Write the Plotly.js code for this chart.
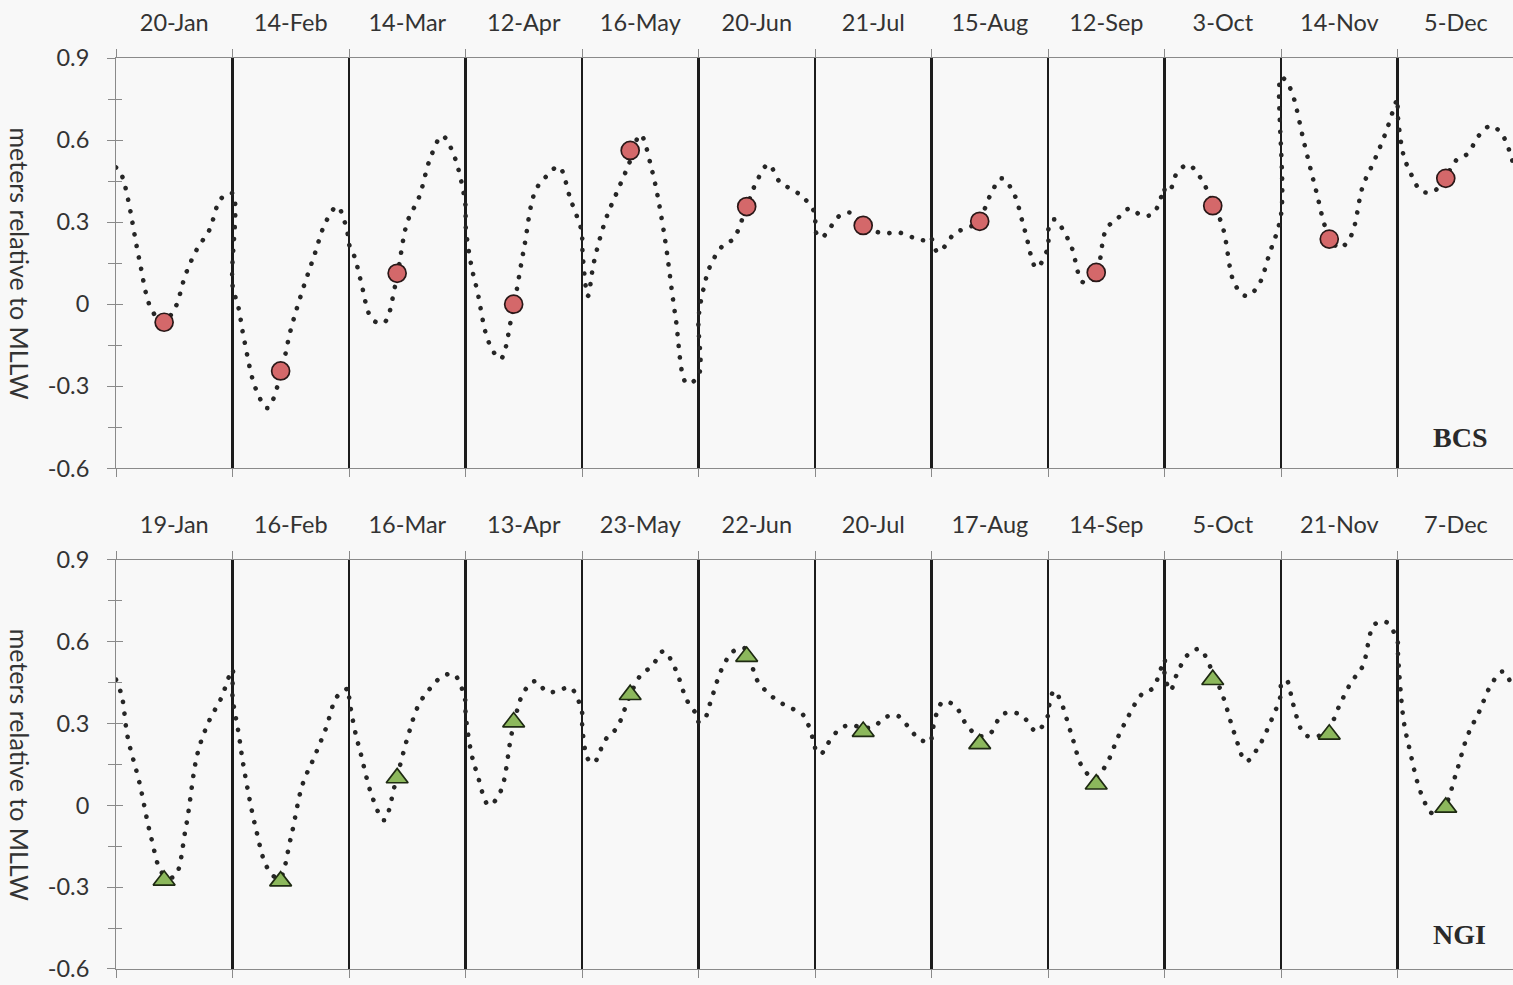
<!DOCTYPE html>
<html><head><meta charset="utf-8">
<script src="https://cdn.plot.ly/plotly-3.0.1.min.js"></script>
<style>
html,body{margin:0;padding:0;background:#f8f8f8;}
#chart{width:1513px;height:985px;}
.scatterlayer .js-line{stroke-linecap:round;}
</style></head>
<body><div id="chart"></div>
<script>
// Sampling-date tick labels (one per monthly window)
const bcsDates = ['20-Jan','14-Feb','14-Mar','12-Apr','16-May','20-Jun','21-Jul','15-Aug','12-Sep','3-Oct','14-Nov','5-Dec'];
const ngiDates = ['19-Jan','16-Feb','16-Mar','13-Apr','23-May','22-Jun','20-Jul','17-Aug','14-Sep','5-Oct','21-Nov','7-Dec'];

// Position of each reading inside its monthly window (0 = window start, 1 = window end)
const sampleFrac = [0, 0.05, 0.1, 0.2, 0.3, 0.4, 0.5, 0.6, 0.7, 0.8, 0.9, 1.0];
// Position of the sampling day inside each window
const sampleDayFrac = 0.413;

// Water level (m relative to MLLW), BCS, one row per monthly window
const bcsLevel = [
  [0.50, 0.47, 0.39, 0.163, -0.015, -0.065, -0.02, 0.112, 0.205, 0.27, 0.385, 0.405],
  [0.07, -0.01, -0.13, -0.31, -0.38, -0.28, -0.093, 0.05, 0.176, 0.30, 0.357, 0.233],
  [0.22, 0.17, 0.087, -0.056, -0.068, 0.075, 0.30, 0.39, 0.537, 0.615, 0.545, 0.36],
  [0.29, 0.14, 0.05, -0.14, -0.20, -0.035, 0.20, 0.415, 0.47, 0.503, 0.385, 0.26],
  [0.22, 0.03, 0.15, 0.306, 0.41, 0.51, 0.62, 0.49, 0.27, -0.04, -0.29, -0.26],
  [-0.05, 0.07, 0.14, 0.21, 0.24, 0.34, 0.45, 0.511, 0.445, 0.42, 0.39, 0.33],
  [0.27, 0.243, 0.26, 0.32, 0.335, 0.30, 0.27, 0.258, 0.264, 0.25, 0.236, 0.232],
  [0.24, 0.19, 0.205, 0.26, 0.278, 0.30, 0.395, 0.46, 0.41, 0.27, 0.133, 0.21],
  [0.27, 0.31, 0.29, 0.21, 0.08, 0.095, 0.275, 0.315, 0.35, 0.325, 0.33, 0.425],
  [0.41, 0.42, 0.475, 0.51, 0.467, 0.384, 0.28, 0.075, 0.03, 0.065, 0.185, 0.33],
  [0.83, 0.81, 0.765, 0.585, 0.415, 0.26, 0.205, 0.25, 0.43, 0.525, 0.63, 0.75],
  [0.70, 0.545, 0.49, 0.415, 0.41, 0.455, 0.525, 0.55, 0.618, 0.652, 0.618, 0.50]
];
// Water level, NGI
const ngiLevel = [
  [0.46, 0.40, 0.25, 0.085, -0.115, -0.25, -0.262, -0.08, 0.19, 0.31, 0.39, 0.498],
  [0.40, 0.27, 0.13, -0.085, -0.23, -0.27, -0.12, 0.075, 0.175, 0.28, 0.40, 0.427],
  [0.40, 0.275, 0.19, 0.03, -0.055, 0.085, 0.245, 0.37, 0.43, 0.472, 0.48, 0.38],
  [0.34, 0.19, 0.115, 0.0, 0.05, 0.27, 0.415, 0.455, 0.415, 0.42, 0.432, 0.34],
  [0.30, 0.17, 0.155, 0.24, 0.285, 0.39, 0.475, 0.51, 0.565, 0.50, 0.385, 0.32],
  [0.305, 0.315, 0.375, 0.50, 0.565, 0.575, 0.46, 0.41, 0.377, 0.355, 0.33, 0.21],
  [0.205, 0.188, 0.22, 0.275, 0.295, 0.285, 0.287, 0.322, 0.33, 0.288, 0.24, 0.235],
  [0.25, 0.345, 0.38, 0.365, 0.295, 0.255, 0.262, 0.33, 0.341, 0.318, 0.27, 0.33],
  [0.34, 0.42, 0.39, 0.26, 0.135, 0.10, 0.15, 0.25, 0.335, 0.405, 0.43, 0.535],
  [0.48, 0.42, 0.475, 0.552, 0.572, 0.50, 0.40, 0.262, 0.161, 0.21, 0.296, 0.41],
  [0.45, 0.455, 0.375, 0.26, 0.252, 0.275, 0.365, 0.45, 0.51, 0.662, 0.672, 0.60],
  [0.58, 0.315, 0.21, 0.045, -0.03, -0.005, 0.115, 0.255, 0.343, 0.44, 0.49, 0.42]
];
// Level on each sampling day
const bcsSample = [-0.066, -0.244, 0.113, 0.0, 0.562, 0.357, 0.288, 0.303, 0.116, 0.36, 0.238, 0.46];
const ngiSample = [-0.275, -0.278, 0.10, 0.305, 0.405, 0.545, 0.27, 0.225, 0.077, 0.46, 0.26, -0.008];

// Y-axis ticks
const yTickVals = [-0.6, -0.3, 0, 0.3, 0.6, 0.9];
const yTickText = ['-0.6', '-0.3', '0', '0.3', '0.6', '0.9'];
const siteNames = ['BCS', 'NGI'];

const nSeg = bcsDates.length;
const segIdx = Array.from({length: nSeg}, (_, i) => i);

function curve(level) {
  const x = [], y = [];
  level.forEach((seg, s) => seg.forEach((v, i) => { x.push(s + sampleFrac[i]); y.push(v); }));
  return {x, y};
}
const bc = curve(bcsLevel), nc = curve(ngiLevel);
const sampleX = segIdx.map(s => s + sampleDayFrac);

const lineStyle = {color: '#262626', width: 4.6, dash: '0.1px,11.6px', shape: 'spline', smoothing: 1};

const traces = [
  {x: bc.x, y: bc.y, xaxis: 'x', yaxis: 'y', mode: 'lines', line: lineStyle, hoverinfo: 'skip'},
  {x: sampleX, y: bcsSample, xaxis: 'x', yaxis: 'y', mode: 'markers',
   marker: {symbol: 'circle', size: 18, color: '#d4686a', line: {color: '#2a1818', width: 1.7}}},
  {x: nc.x, y: nc.y, xaxis: 'x2', yaxis: 'y2', mode: 'lines', line: lineStyle, hoverinfo: 'skip'},
  {x: sampleX, y: ngiSample, xaxis: 'x2', yaxis: 'y2', mode: 'markers',
   marker: {symbol: 'triangle-up', size: 19, color: '#8cb85c', line: {color: '#1e2a12', width: 1.7}}},
  // empty helpers registering the overlay axes
  {x: [], y: [], xaxis: 'x3', yaxis: 'y3'},
  {x: [], y: [], xaxis: 'x5', yaxis: 'y'},
  {x: [], y: [], xaxis: 'x4', yaxis: 'y4'},
  {x: [], y: [], xaxis: 'x6', yaxis: 'y2'}
];

const xRange = [0, nSeg - 0.01];
const boundaries = Array.from({length: nSeg + 1}, (_, i) => i);
const inner = boundaries.slice(1, nSeg);
const centers = segIdx.map(i => i + 0.5);
const tickFont = {family: 'Lato, sans-serif', size: 23.5, color: '#333'};
const gray = '#8a8a8a';

function tickAxis(anchor) {
  return {anchor, range: xRange, tickmode: 'array', tickvals: boundaries, ticks: 'outside', ticklen: 8,
    tickcolor: gray, tickwidth: 1, mirror: 'allticks', showline: true, linecolor: gray, linewidth: 1,
    showticklabels: false, showgrid: false, zeroline: false, fixedrange: true};
}
function gridAxis(over, anchor) {
  return {overlaying: over, anchor, range: xRange, tickmode: 'array', tickvals: inner, ticks: '',
    showticklabels: false, showgrid: true, gridcolor: '#1c1c1c', gridwidth: 2.7, showline: false, zeroline: false};
}
function labelAxis(over, anchor, labels) {
  return {overlaying: over, anchor, side: 'top', range: xRange, tickmode: 'array', tickvals: centers, ticktext: labels,
    ticks: '', ticklabelstandoff: 21, ticklabeloverflow: 'allow', tickfont: tickFont,
    showgrid: false, showline: false, zeroline: false};
}
function yMain(domain, anchor) {
  return {domain, anchor, range: [-0.6, 0.9], tickmode: 'array', tickvals: yTickVals, ticktext: yTickText,
    ticks: 'outside', ticklen: 8, tickcolor: gray, tickwidth: 1, ticklabelstandoff: 13, ticklabeloverflow: 'allow',
    minor: {dtick: 0.15, tick0: 0, ticks: 'outside', ticklen: 7, tickcolor: gray, tickwidth: 1},
    showline: true, linecolor: gray, linewidth: 1, showgrid: false, zeroline: false, tickfont: tickFont};
}
function yInside(over, anchor) {
  return {overlaying: over, anchor, range: [-0.6, 0.9], tickmode: 'array', tickvals: yTickVals,
    ticks: 'inside', ticklen: 7, tickcolor: gray, tickwidth: 1,
    minor: {dtick: 0.15, tick0: 0, ticks: 'inside', ticklen: 6, tickcolor: gray, tickwidth: 1},
    showticklabels: false, showline: false, showgrid: false, zeroline: false};
}

const yTitleFont = {family: 'Lato, sans-serif', size: 25, color: '#333'};
const layout = {
  width: 1513, height: 985,
  margin: {l: 116, r: 0, t: 58, b: 16, pad: 0},
  paper_bgcolor: '#f8f8f8', plot_bgcolor: '#f8f8f8',
  showlegend: false,
  font: {family: 'Lato, sans-serif', color: '#333'},
  xaxis: tickAxis('y'),
  xaxis2: tickAxis('y2'),
  xaxis3: gridAxis('x', 'y'),
  xaxis4: gridAxis('x2', 'y2'),
  xaxis5: labelAxis('x', 'y', bcsDates),
  xaxis6: labelAxis('x2', 'y2', ngiDates),
  yaxis: yMain([0.5496, 1], 'x'),
  yaxis2: yMain([0, 0.4493], 'x2'),
  yaxis3: yInside('y', 'x'),
  yaxis4: yInside('y2', 'x2'),
  annotations: [
    {text: 'meters relative to MLLW', textangle: 90, xref: 'paper', yref: 'y domain', x: -0.069, y: 0.5,
     xanchor: 'center', yanchor: 'middle', showarrow: false, font: yTitleFont},
    {text: 'meters relative to MLLW', textangle: 90, xref: 'paper', yref: 'y2 domain', x: -0.069, y: 0.5,
     xanchor: 'center', yanchor: 'middle', showarrow: false, font: yTitleFont},
    {text: '<b>' + siteNames[0] + '</b>', xref: 'paper', yref: 'y domain', x: 0.962, y: 0.075,
     xanchor: 'center', yanchor: 'middle', showarrow: false,
     font: {family: 'Liberation Serif, Times New Roman, serif', size: 28, color: '#2a2a2a'}},
    {text: '<b>' + siteNames[1] + '</b>', xref: 'paper', yref: 'y2 domain', x: 0.962, y: 0.085,
     xanchor: 'center', yanchor: 'middle', showarrow: false,
     font: {family: 'Liberation Serif, Times New Roman, serif', size: 28, color: '#2a2a2a'}}
  ]
};

Plotly.newPlot('chart', traces, layout, {staticPlot: true, displayModeBar: false});
</script>
</body></html>
